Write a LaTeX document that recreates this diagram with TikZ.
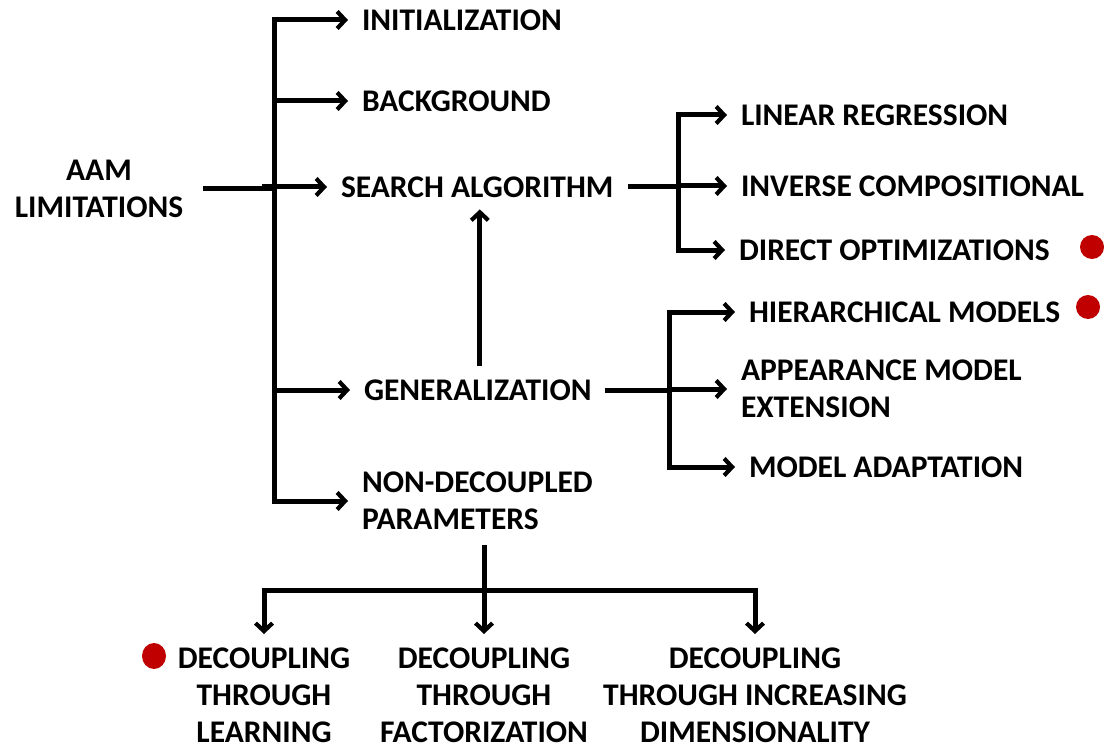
\documentclass[tikz,border=0pt]{standalone}
\usepackage{fontspec}
\setmainfont{Carlito}
\usetikzlibrary{arrows.meta,calc,shapes.geometric}
\definecolor{dotred}{HTML}{C00000}
\begin{document}
\begin{tikzpicture}[x=1pt,y=-1pt,
  lbl/.style={font=\bfseries\fontsize{31.5}{37.5}\selectfont, inner sep=0pt, outer sep=0pt},
  blbl/.style={lbl, font=\bfseries\fontsize{31.5}{37}\selectfont, anchor=north, align=center},
  line/.style={line width=5pt},
  arr/.style={line width=5pt, -{Straight Barb[length=8pt,width=17pt,line width=4.2pt]}, shorten >=14pt},
  dot/.style={fill=dotred, draw=none}]
\useasboundingbox (0,0) rectangle (1104,749);
% nodes
\node[lbl, align=center] (aam) at (99,189) {AAM\\LIMITATIONS};
\node[lbl, anchor=west] (init) at (362,20) {INITIALIZATION};
\node[lbl, anchor=west] (back) at (362,101) {BACKGROUND};
\node[lbl, anchor=west] (search) at (341,187) {SEARCH ALGORITHM};
\node[lbl, anchor=west] (gen) at (364,390) {GENERALIZATION};
\node[lbl, anchor=west, align=left] (nondec) at (362,501) {NON-DECOUPLED\\PARAMETERS};
\node[lbl, anchor=west] (lin) at (741,115) {LINEAR REGRESSION};
\node[lbl, anchor=west] (inv) at (741,186) {INVERSE COMPOSITIONAL};
\node[lbl, anchor=west] (dir) at (739,250) {DIRECT OPTIMIZATIONS};
\node[lbl, anchor=west] (hier) at (749,312) {HIERARCHICAL MODELS};
\node[lbl, anchor=west, align=left] (app) at (741,389) {APPEARANCE MODEL\\EXTENSION};
\node[lbl, anchor=west] (mad) at (749,467) {MODEL ADAPTATION};
\node[blbl] (d1) at (264,648) {DECOUPLING\\THROUGH\\LEARNING};
\node[blbl] (d2) at (484,648) {DECOUPLING\\THROUGH\\FACTORIZATION};
\node[blbl] (d3) at (755,648) {DECOUPLING\\THROUGH INCREASING\\DIMENSIONALITY};
% red dots
\node[dot, circle, minimum size=24pt, inner sep=0pt] (r1) at (1092,247) {};
\node[dot, circle, minimum size=24pt, inner sep=0pt] (r2) at (1088,307) {};
\node[dot, ellipse, minimum width=24pt, minimum height=26pt, inner sep=0pt] (r3) at (154,656) {};
% coordinates
\coordinate (trunk) at (274,0);
\coordinate (sb) at (678,0);
\coordinate (gb) at (669,0);
\coordinate (nb) at (0,590);
% main trunk
\draw[line] ($(trunk |- init.west)+(0,-2.5)$) -- ($(trunk |- nondec.west)+(0,2.5)$);
\draw[line] ([xshift=20pt]aam.east) -- (aam.east -| trunk);
\draw[arr] (trunk |- init.west) -- (init.west);
\draw[arr] (trunk |- back.west) -- (back.west);
\draw[arr] ($(trunk |- search.west)+(-12,0)$) -- (search.west);
\draw[arr] (trunk |- gen.west) -- (gen.west);
\draw[arr] (trunk |- nondec.west) -- (nondec.west);
% generalization to search
\draw[arr, shorten <=14pt, shorten >=12pt] ([xshift=2pt]gen.north) -- ([xshift=2pt]gen.north |- search.south);
% search branch
\draw[line, shorten <=15pt] (search.east) -- (search.east -| sb);
\draw[line] ($(sb |- lin.west)+(0,-2.5)$) -- ($(sb |- dir.west)+(0,2.5)$);
\draw[arr] (sb |- lin.west) -- (lin.west);
\draw[arr] (sb |- inv.west) -- (inv.west);
\draw[arr] (sb |- dir.west) -- (dir.west);
% generalization branch
\draw[line, shorten <=13pt] (gen.east) -- (gen.east -| gb);
\draw[line] ($(gb |- hier.west)+(0,-2.5)$) -- ($(gb |- mad.west)+(0,2.5)$);
\draw[arr] (gb |- hier.west) -- (hier.west);
\draw[arr] (gb |- app.west) -- (app.west);
\draw[arr] (gb |- mad.west) -- (mad.west);
% non-decoupled branch
\draw[line, shorten <=15pt] (nondec.south -| d2.north) -- (nb -| d2.north);
\draw[line] ($(nb -| d1.north)+(-2.5,0)$) -- ($(nb -| d3.north)+(2.5,0)$);
\draw[arr, shorten >=14pt] (nb -| d1.north) -- (d1.north);
\draw[arr, shorten >=14pt] (nb -| d2.north) -- (d2.north);
\draw[arr, shorten >=14pt] (nb -| d3.north) -- (d3.north);
\end{tikzpicture}
\end{document}
